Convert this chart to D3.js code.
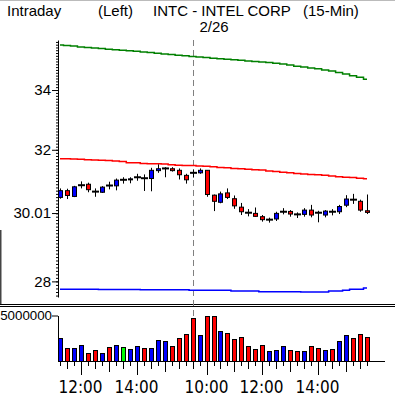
<!DOCTYPE html>
<html>
<head>
<meta charset="utf-8">
<script src="https://cdn.jsdelivr.net/npm/d3@7"></script>
<style>
body { margin: 0; background: #fff; }
svg { display: block; }
text { font-family: "Liberation Sans", Arial, sans-serif; fill: #000; }
.tl { font-family: "Liberation Sans Narrow", "DejaVu Sans Condensed", sans-serif; }
</style>
</head>
<body>
<div id="chart"></div>
<script>
// data (15 min bars, 2 sessions)
var times = ["11:15","11:30","11:45","12:00","12:15","12:30","12:45","13:00","13:15","13:30","13:45","14:00","14:15","14:30","14:45","15:00","15:15","15:30","15:45",
  "9:30","9:45","10:00","10:15","10:30","10:45","11:00","11:15","11:30","11:45","12:00","12:15","12:30","12:45","13:00","13:15","13:30","13:45","14:00","14:15","14:30","14:45","15:00","15:15","15:30","15:45"];
var open  = [30.49,30.70,30.52,30.87,30.90,30.67,30.65,30.86,30.85,31.04,31.04,31.12,31.09,31.08,31.33,31.40,31.39,31.34,31.18,
  31.26,31.26,31.34,30.56,30.34,30.63,30.45,30.19,30.02,30.00,29.90,29.81,29.83,30.05,30.06,29.97,29.97,30.10,30.02,29.95,30.05,30.05,30.25,30.42,30.37,30.08];
var high  = [30.77,30.76,30.85,30.99,30.95,30.77,30.84,30.98,31.08,31.12,31.12,31.23,31.21,31.42,31.53,31.44,31.44,31.40,31.23,
  31.37,31.40,31.34,30.58,30.67,30.77,30.55,30.32,30.13,30.18,29.95,29.87,30.05,30.16,30.10,30.03,30.16,30.26,30.08,30.10,30.13,30.26,30.56,30.60,30.42,30.58];
var low   = [30.45,30.44,30.50,30.77,30.65,30.51,30.63,30.74,30.71,30.92,30.93,31.01,30.69,30.68,31.26,31.12,31.30,31.05,30.92,
  31.11,31.23,30.51,30.07,30.31,30.44,30.14,29.95,29.91,29.90,29.75,29.72,29.77,29.97,29.90,29.86,29.90,29.88,29.73,29.88,29.94,29.98,30.19,30.29,30.05,29.98];
var close = [30.70,30.55,30.82,30.87,30.73,30.67,30.81,30.86,31.03,31.04,31.07,31.12,31.09,31.34,31.39,31.40,31.33,31.20,31.04,
  31.26,31.34,30.58,30.37,30.60,30.49,30.23,30.05,30.02,29.91,29.81,29.81,30.00,30.05,29.98,29.97,30.10,29.95,30.02,30.07,30.05,30.21,30.44,30.42,30.10,30.03];
// bands
var upper  = [35.59,35.57,35.55,35.52,35.50,35.48,35.46,35.44,35.42,35.40,35.38,35.36,35.34,35.32,35.29,35.27,35.25,35.22,35.20,
  35.18,35.16,35.14,35.11,35.10,35.08,35.06,35.04,35.02,35.00,34.98,34.96,34.94,34.91,34.87,34.83,34.80,34.77,34.74,34.70,34.66,34.61,34.56,34.50,34.44,34.37];
var middle = [31.71,31.71,31.70,31.69,31.68,31.67,31.66,31.65,31.64,31.62,31.58,31.58,31.56,31.55,31.55,31.54,31.52,31.50,31.49,
  31.49,31.48,31.47,31.45,31.43,31.42,31.40,31.39,31.37,31.36,31.35,31.32,31.30,31.28,31.26,31.24,31.22,31.21,31.20,31.18,31.16,31.14,31.12,31.11,31.09,31.07];
var lower  = [27.78,27.78,27.78,27.78,27.78,27.78,27.77,27.77,27.77,27.77,27.77,27.77,27.76,27.76,27.76,27.76,27.76,27.76,27.76,
  27.75,27.75,27.75,27.75,27.75,27.75,27.73,27.73,27.73,27.73,27.71,27.71,27.71,27.71,27.71,27.71,27.70,27.70,27.70,27.70,27.73,27.73,27.75,27.78,27.78,27.81];
var volume = [2570000,1470000,1470000,1770000,880000,1210000,880000,1550000,1770000,1550000,1320000,1660000,1470000,1470000,2320000,2210000,1660000,2570000,2980000,
  4780000,2870000,4970000,4970000,3310000,3090000,2430000,2650000,1660000,1320000,1770000,1100000,1210000,1660000,1210000,1100000,1100000,1660000,1430000,1210000,1320000,2210000,2870000,2540000,2980000,2650000];
var volDir = ["up","down","up","up","down","down","up","down","up","flat","up","up","down","up","up","up","down","down","down",
  "down","up","down","down","up","down","down","down","down","down","down","up","up","up","down","down","up","down","down","up","down","up","up","down","down","down"];
var priceTicks = [28, 30.01, 32, 34];
var volTicks = [5000000];
var dayLabel = "2/26";
var titleLeft = "Intraday", titleSide = "(Left)", titleName = "INTC - INTEL CORP", titleFreq = "(15-Min)";

var width = 395, height = 397;
var svg = d3.select('#chart').append('svg')
    .attr('width', width)
    .attr('height', height);

// skalor
var x = d3.scaleLinear().domain([0, times.length - 1]).range([60, 367]);
var y = d3.scaleLog().domain([27.56, 35.77]).range([297, 40]);
var yVol = d3.scaleLinear().domain([0, 5000000]).range([361, 315.5]);
function px(i) { return Math.round(x(i)) + 0.5; }

// ram / linjer
svg.append('line').attr('x1', 0).attr('x2', width).attr('y1', 0.5).attr('y2', 0.5).style('stroke', '#bbb');
svg.append('line').attr('x1', 0).attr('x2', width).attr('y1', 304.5).attr('y2', 304.5).style('stroke', '#000');
svg.append('line').attr('x1', 0).attr('x2', width).attr('y1', 306.5).attr('y2', 306.5).style('stroke', '#000');
svg.append('line').attr('x1', 0.5).attr('x2', 0.5).attr('y1', 230).attr('y2', 304).style('stroke', '#444').style('stroke-width', 2);

// titel
svg.append('text').attr('x', 7).attr('y', 16).style('font-size', '15px').text(titleLeft);
svg.append('text').attr('x', 98).attr('y', 16).style('font-size', '15px').text(titleSide);
svg.append('text').attr('x', 153).attr('y', 16).style('font-size', '15px').text(titleName);
svg.append('text').attr('x', 303).attr('y', 16).style('font-size', '15px').text(titleFreq);

// dagsgräns
var dayStart = times.findIndex(function (t, i) { return i > 0 && +t.split(':')[0] < +times[i - 1].split(':')[0]; });
svg.append('line')
    .attr('x1', px(dayStart)).attr('x2', px(dayStart))
    .attr('y1', 40).attr('y2', yVol(volume[dayStart]))
    .style('stroke', '#808080')
    .style('stroke-dasharray', '6,4');
svg.append('text').attr('x', px(dayStart) + 6).attr('y', 32).style('font-size', '15px').text(dayLabel);

// y-axel pris, små ticks var 0.1
var minor = d3.range(276, 358).map(function (d) { return d / 10; });
svg.append('g')
    .attr('transform', 'translate(58,0)')
    .call(d3.axisLeft(y).tickValues(minor).tickSize(2).tickSizeOuter(0).tickFormat(''))
    .call(function (g) { g.selectAll('line,path').style('stroke', '#000'); });
svg.append('g')
    .attr('transform', 'translate(58,0)')
    .call(d3.axisLeft(y).tickValues(priceTicks).tickSize(6).tickPadding(1).tickSizeOuter(0)
        .tickFormat(function (d) { return d === 30.01 ? '30.01' : d3.format('d')(d); }))
    .call(function (g) {
        g.select('.domain').remove();
        g.selectAll('line').style('stroke', '#000');
        g.selectAll('text').attr('font-family', null).style('font-size', '15px');
    });

// band-linjer
function band(data, color) {
    svg.append('path')
        .datum(data)
        .attr('d', d3.line().x(function (d, i) { return x(i); }).y(function (d) { return y(d); }).curve(d3.curveStep))
        .style('fill', 'none')
        .style('stroke', color)
        .style('stroke-width', 1.5);
}
band(upper, '#008000');
band(middle, '#ff0000');
band(lower, '#0000ff');

// candles
var idx = d3.range(times.length);
svg.selectAll('.wick').data(idx).enter()
    .append('line')
    .attr('x1', px).attr('x2', px)
    .attr('y1', function (i) { return y(high[i]); })
    .attr('y2', function (i) { return y(low[i]); })
    .style('stroke', '#000');
svg.selectAll('.body').data(idx.filter(function (i) { return open[i] !== close[i]; })).enter()
    .append('rect')
    .attr('x', function (i) { return px(i) - 2; })
    .attr('y', function (i) { return y(Math.max(open[i], close[i])); })
    .attr('width', 4)
    .attr('height', function (i) { return Math.max(1, Math.abs(y(open[i]) - y(close[i]))); })
    .style('fill', function (i) { return close[i] > open[i] ? '#0000ff' : '#ff0000'; })
    .style('stroke', '#000');
svg.selectAll('.doji').data(idx.filter(function (i) { return open[i] === close[i]; })).enter()
    .append('line')
    .attr('x1', function (i) { return px(i) - 3.5; })
    .attr('x2', function (i) { return px(i) + 3.5; })
    .attr('y1', function (i) { return y(close[i]); })
    .attr('y2', function (i) { return y(close[i]); })
    .style('stroke', '#000')
    .style('stroke-width', 2);

// volym
var volColor = { up: '#0000ff', down: '#ff0000', flat: '#00ff00' };
svg.selectAll('.vol').data(idx).enter()
    .append('rect')
    .attr('x', function (i) { return px(i) - 2; })
    .attr('y', function (i) { return Math.round(yVol(volume[i])) + 0.5; })
    .attr('width', 4)
    .attr('height', function (i) { return 361 - Math.round(yVol(volume[i])); })
    .style('fill', function (i) { return volColor[volDir[i]]; })
    .style('stroke', '#000');
svg.append('g')
    .attr('transform', 'translate(58,0)')
    .call(d3.axisLeft(yVol).tickValues(volTicks).tickSize(6).tickPadding(0).tickSizeOuter(0).tickFormat(d3.format('d')))
    .call(function (g) {
        g.selectAll('line,path').style('stroke', '#000');
        g.selectAll('text').attr('font-family', null).style('font-size', '13.3px');
    });

// tidsaxel
svg.append('line').attr('x1', 58).attr('x2', 385).attr('y1', 361.5).attr('y2', 361.5).style('stroke', '#000');
function tickLen(t) {
    var h = +t.split(':')[0], m = +t.split(':')[1];
    if (m === 0 && h % 2 === 0) return 14;
    if (m === 0) return 11;
    if (m === 30) return 8;
    return 5;
}
svg.selectAll('.xt').data(idx).enter()
    .append('line')
    .attr('x1', px).attr('x2', px)
    .attr('y1', 361)
    .attr('y2', function (i) { return 361 + tickLen(times[i]); })
    .style('stroke', '#000');
svg.selectAll('.xl').data(idx.filter(function (i) { return tickLen(times[i]) === 14; })).enter()
    .append('text')
    .attr('class', 'tl')
    .attr('x', function (i) { return px(i) - 1; })
    .attr('y', 393)
    .attr('text-anchor', 'middle')
    .style('font-size', '17px')
    .text(function (i) { return times[i]; });
</script>
</body>
</html>
